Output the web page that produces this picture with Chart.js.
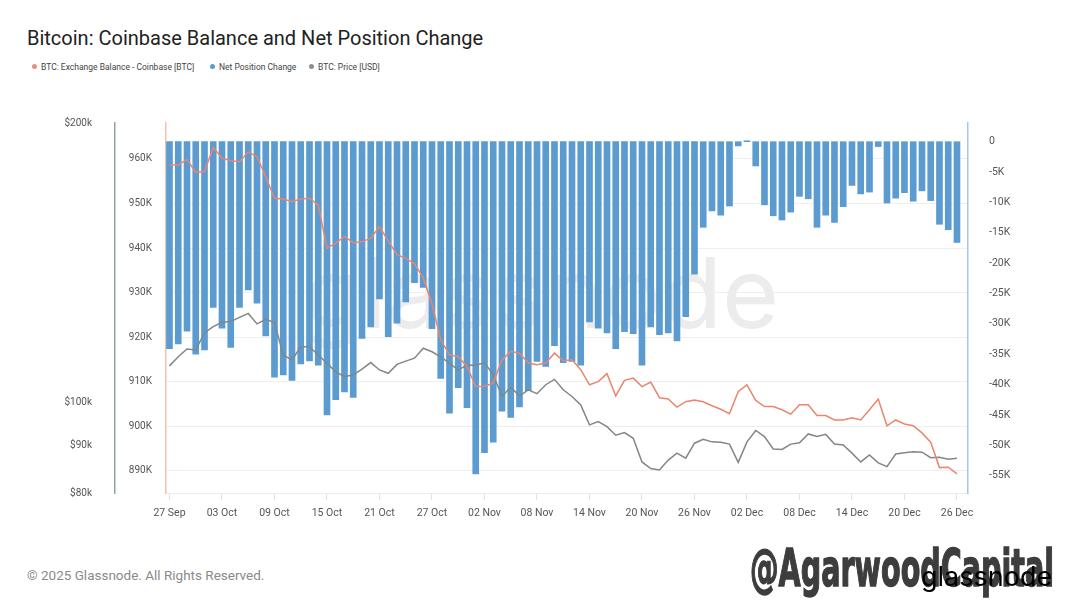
<!DOCTYPE html>
<html>
<head>
<meta charset="utf-8">
<script src="https://cdn.jsdelivr.net/npm/chart.js@4.4.1/dist/chart.umd.min.js"></script>
<style>
  body { margin: 0; width: 1080px; height: 607px; background: #fff; overflow: hidden; position: relative; font-family: Roboto, sans-serif; }
  #title { position: absolute; left: 27px; top: 26px; font-size: 20px; line-height: 24px; color: #222; white-space: nowrap; }
  .leg { position: absolute; top: 62px; font-size: 8.5px; line-height: 10px; color: #444; white-space: nowrap; }
  .leg i { display: inline-block; width: 5px; height: 5px; border-radius: 50%; margin-right: 4px; vertical-align: middle; position: relative; top: -1px; }
  #wm { position: absolute; left: 303px; top: 233px; font-family: Inter, sans-serif; font-size: 98px; color: #ececec; white-space: nowrap; }
  #box { position: absolute; left: 0; top: 100px; width: 1080px; height: 440px; }
  #copy { position: absolute; left: 27px; top: 567px; font-size: 13.5px; color: #8a8a8a; white-space: nowrap; }
  #brand { position: absolute; left: 750px; top: 538px; font-family: 'DejaVu Sans', sans-serif; font-weight: bold; font-size: 52px; line-height: 60px; color: #3d3d3d; transform: scaleX(0.55); transform-origin: left top; white-space: nowrap; -webkit-text-stroke: 1.5px #3d3d3d; }
  #gn { position: absolute; left: 921px; top: 560px; font-family: Inter, sans-serif; font-size: 27px; color: #000; white-space: nowrap; }
</style>
</head>
<body>
<div id="title">Bitcoin: Coinbase Balance and Net Position Change</div>
<div class="leg" style="left:32px"><i style="background:#e8907c"></i>BTC: Exchange Balance - Coinbase [BTC]</div>
<div class="leg" style="left:210px"><i style="background:#5b9bd0"></i>Net Position Change</div>
<div class="leg" style="left:309px"><i style="background:#8a8f90"></i>BTC: Price [USD]</div>
<div id="wm">glassnode</div>
<div id="box"><canvas id="chart"></canvas></div>
<div id="copy">© 2025 Glassnode. All Rights Reserved.</div>
<div id="brand">@AgarwoodCapital</div>
<div id="gn">glassnode</div>
<script>
// fechas diarias (categorias)
const dates = [
  '27 Sep', '28 Sep', '29 Sep', '30 Sep',
  '01 Oct', '02 Oct', '03 Oct', '04 Oct', '05 Oct', '06 Oct', '07 Oct', '08 Oct', '09 Oct', '10 Oct',
  '11 Oct', '12 Oct', '13 Oct', '14 Oct', '15 Oct', '16 Oct', '17 Oct', '18 Oct', '19 Oct', '20 Oct',
  '21 Oct', '22 Oct', '23 Oct', '24 Oct', '25 Oct', '26 Oct', '27 Oct', '28 Oct', '29 Oct', '30 Oct', '31 Oct',
  '01 Nov', '02 Nov', '03 Nov', '04 Nov', '05 Nov', '06 Nov', '07 Nov', '08 Nov', '09 Nov', '10 Nov',
  '11 Nov', '12 Nov', '13 Nov', '14 Nov', '15 Nov', '16 Nov', '17 Nov', '18 Nov', '19 Nov', '20 Nov',
  '21 Nov', '22 Nov', '23 Nov', '24 Nov', '25 Nov', '26 Nov', '27 Nov', '28 Nov', '29 Nov', '30 Nov',
  '01 Dec', '02 Dec', '03 Dec', '04 Dec', '05 Dec', '06 Dec', '07 Dec', '08 Dec', '09 Dec', '10 Dec',
  '11 Dec', '12 Dec', '13 Dec', '14 Dec', '15 Dec', '16 Dec', '17 Dec', '18 Dec', '19 Dec', '20 Dec',
  '21 Dec', '22 Dec', '23 Dec', '24 Dec', '25 Dec', '26 Dec'
];

const tickLabels = ['27 Sep', '03 Oct', '09 Oct', '15 Oct', '21 Oct', '27 Oct', '02 Nov', '08 Nov',
  '14 Nov', '20 Nov', '26 Nov', '02 Dec', '08 Dec', '14 Dec', '20 Dec', '26 Dec'];

// Balance Coinbase [BTC]
const balanceBTC = [
  958650, 958650, 959900, 957000, 957200, 962600, 960200, 959600, 959400, 961600,
  960500, 956000, 951200, 951000, 950400, 951000, 951200, 949700, 940000, 941100,
  942600, 941200, 941400, 942200, 944800, 941600, 938500, 937700, 936500, 933300,
  927500, 919400, 916000, 915600, 913400, 908900, 908900, 909700, 914900, 916800,
  916400, 914200, 913800, 914200, 916400, 914700, 914900, 912700, 909300, 910000,
  911800, 906800, 910300, 910800, 908900, 909900, 906400, 906100, 904300, 905500,
  905900, 905500, 904600, 903800, 902800, 907800, 909300, 905800, 904400, 904400,
  903700, 902700, 904800, 904800, 902400, 902400, 901400, 901400, 901900, 901400,
  903700, 906100, 900100, 901400, 900500, 900100, 898500, 896400, 890700, 890800,
  889300
];

// Net Position Change [BTC]
const netPositionChange = [
  -34100, -33300, -31200, -35000, -34300, -27300, -30700, -33900, -27300, -24400,
  -26600, -32000, -38800, -38400, -39300, -36600, -36100, -36800, -45000, -42500,
  -41200, -42100, -32400, -30500, -25900, -32100, -29900, -26400, -23200, -24000,
  -30800, -39000, -44700, -40500, -43800, -54700, -51200, -49500, -44400, -45400,
  -43700, -41000, -36200, -37000, -33600, -36400, -36200, -36800, -29700, -30700,
  -31500, -34100, -31300, -31600, -36800, -30500, -31800, -31500, -32800, -28800,
  -21800, -14100, -11400, -12100, -10600, -700, 150, -4000, -10400, -12200,
  -12900, -11600, -9000, -9400, -14100, -12100, -13300, -10700, -7200, -8600,
  -8300, -800, -10100, -9300, -8400, -9800, -8100, -9700, -13600, -14500,
  -16600
];

// BTC price [USD]
const priceUSD = [
  109600, 112100, 114300, 114000, 119000, 120800, 122100, 122300, 123600, 124800,
  121600, 123000, 122000, 112600, 111200, 114900, 114900, 112600, 110300, 108000,
  106700, 107200, 108700, 110500, 108500, 107600, 110000, 110900, 111700, 114500,
  113500, 112100, 110300, 108500, 109800, 109800, 110500, 107200, 101600, 104000,
  101700, 103300, 102300, 104600, 106000, 103300, 101600, 99500, 94700, 95500,
  94300, 92300, 92900, 91600, 86400, 85000, 84700, 86800, 88300, 87200,
  90500, 91400, 90800, 90700, 90300, 86300, 90800, 93400, 92000, 89200,
  89100, 90300, 90600, 92600, 92000, 92500, 90300, 90100, 88300, 86400,
  87900, 86200, 85400, 88100, 88400, 88600, 88500, 87300, 87400, 87000,
  87200
];

const priceTicks = [80000, 90000, 100000, 200000];
const balanceTicks = [890000, 900000, 910000, 920000, 930000, 940000, 950000, 960000];
const netTicks = [0, -5000, -10000, -15000, -20000, -25000, -30000, -35000, -40000, -45000, -50000, -55000];

const tickFont = { family: 'Roboto', size: 10 };
const toXY = arr => arr.map((v, i) => ({ x: i, y: v }));

new Chart(document.getElementById('chart'), {
  data: {
    datasets: [
      {
        type: 'line',
        label: 'BTC: Exchange Balance - Coinbase [BTC]',
        data: toXY(balanceBTC),
        yAxisID: 'bal',
        borderColor: '#ea866e',
        borderWidth: 1.5,
        pointRadius: 0,
        order: 1
      },
      {
        type: 'bar',
        label: 'Net Position Change',
        data: toXY(netPositionChange),
        yAxisID: 'net',
        backgroundColor: '#5b9bd0',
        barThickness: 6,
        order: 3
      },
      {
        type: 'line',
        label: 'BTC: Price [USD]',
        data: toXY(priceUSD),
        yAxisID: 'price',
        borderColor: '#7f8886',
        borderWidth: 1.5,
        pointRadius: 0,
        order: 2
      }
    ]
  },
  options: {
    responsive: true,
    maintainAspectRatio: false,
    animation: false,
    layout: { padding: { left: 60, right: 52, top: 23, bottom: 10 } },
    plugins: { legend: { display: false }, tooltip: { enabled: false } },
    scales: {
      x: {
        type: 'linear',
        offset: false,
        min: -0.4,
        max: 91.26,
        afterBuildTicks: s => { s.ticks = tickLabels.map(l => ({ value: dates.indexOf(l) })); },
        afterFit: s => { s.height = 37; },
        ticks: {
          autoSkip: false, maxRotation: 0, padding: 7,
          color: '#555', font: { family: 'Roboto', size: 10.5 },
          callback: v => dates[v]
        },
        grid: { offset: false, drawOnChartArea: false, drawTicks: true, tickLength: 7, color: '#e3e3e3' },
        border: { display: true, color: '#eeeeee' }
      },
      price: {
        type: 'logarithmic',
        position: 'left',
        weight: 1,
        min: 80000,
        max: 200000,
        afterBuildTicks: s => { s.ticks = priceTicks.map(v => ({ value: v })); },
        afterFit: s => { s.width = 55; },
        ticks: { autoSkip: false, padding: 15, color: '#555', font: tickFont, callback: v => '$' + (v / 1000) + 'k' },
        grid: { display: false },
        border: { display: true, color: '#8ea59d', width: 1.5 }
      },
      bal: {
        type: 'linear',
        position: 'left',
        weight: 0,
        min: 885000,
        max: 968080,
        afterBuildTicks: s => { s.ticks = balanceTicks.map(v => ({ value: v })); },
        afterFit: s => { s.width = 51; },
        ticks: { autoSkip: false, padding: 14, color: '#555', font: tickFont, callback: v => (v / 1000) + 'K' },
        grid: { drawTicks: false, color: '#efefef' },
        border: { display: true, color: '#f3bfb2', width: 1.5 }
      },
      net: {
        type: 'linear',
        position: 'right',
        min: -57860,
        max: 3080,
        afterBuildTicks: s => { s.ticks = netTicks.map(v => ({ value: v })); },
        afterFit: s => { s.width = 60; },
        ticks: { autoSkip: false, padding: 13, color: '#555', font: { family: 'Roboto', size: 10.5 }, callback: v => v === 0 ? '0' : (v / 1000) + 'K' },
        grid: { display: false },
        border: { display: true, color: '#a6c8e5', width: 1.5 }
      }
    }
  }
});
</script>
</body>
</html>
